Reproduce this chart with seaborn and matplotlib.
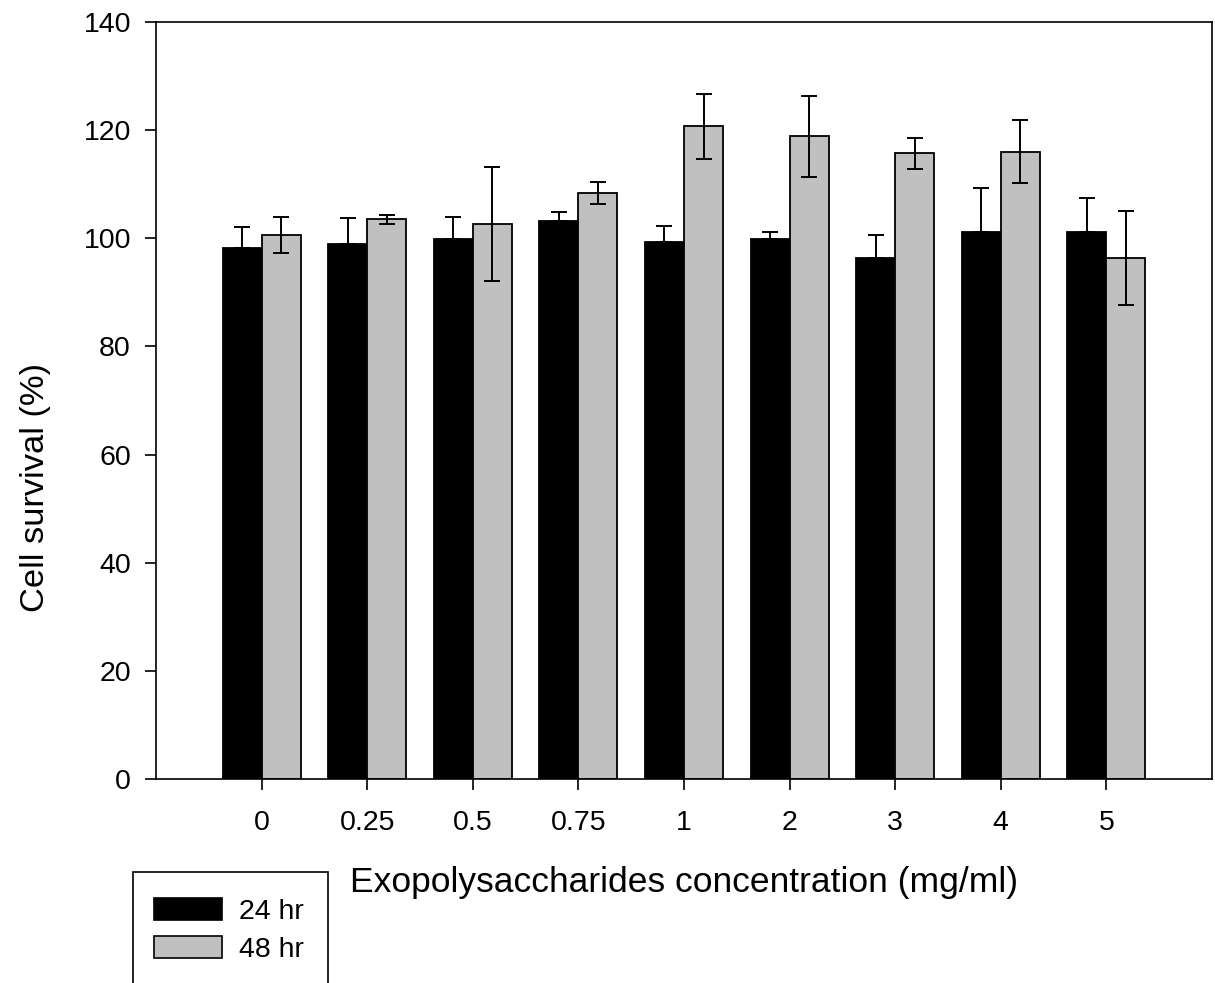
import matplotlib
matplotlib.use("Agg")
import matplotlib.pyplot as plt
from matplotlib.patches import Patch, Rectangle
import seaborn as sns
import pandas as pd
import numpy as np

# EPS concentrations (mg/ml) and cell survival (%) after 24 h and 48 h
concentrations = ["0", "0.25", "0.5", "0.75", "1", "2", "3", "4", "5"]
survival_24 = [98.2, 98.9, 99.9, 103.2, 99.2, 99.9, 96.3, 101.1, 101.1]
err_24 = [3.9, 4.9, 4.0, 1.7, 3.0, 1.3, 4.2, 8.1, 6.3]
survival_48 = [100.6, 103.5, 102.6, 108.3, 120.7, 118.8, 115.7, 116.0, 96.3]
err_48 = [3.3, 0.8, 10.5, 2.0, 6.0, 7.5, 2.9, 5.8, 8.7]
times = ["24 hr", "48 hr"]
colors = ["#000000", "#c0c0c0"]

sns.set_style("white")
plt.rcParams["font.family"] = ["Liberation Sans", "DejaVu Sans"]
plt.rcParams.update({"text.color": "black", "axes.labelcolor": "black",
                     "xtick.color": "black", "ytick.color": "black"})

df = pd.DataFrame({
    "conc": concentrations * 2,
    "survival": survival_24 + survival_48,
    "time": [times[0]] * len(concentrations) + [times[1]] * len(concentrations),
})

W, H = 1215, 983
fig = plt.figure(figsize=(W / 100, H / 100), dpi=100)
ax = fig.add_axes([156 / W, 1 - 779.3 / H, (1212 - 156) / W, (779.3 - 21.7) / H])

sns.barplot(data=df, x="conc", y="survival", hue="time", order=concentrations,
            hue_order=times, palette=colors, width=0.74, errorbar=None,
            edgecolor="black", linewidth=1.3, saturation=1, ax=ax, legend=False)

# error bars: 24 h upward only, 48 h both directions
for cont, vals, errs, sym in zip(ax.containers, [survival_24, survival_48],
                                 [err_24, err_48], [False, True]):
    xs = [p.get_x() + p.get_width() / 2 for p in cont.patches]
    errs = np.asarray(errs)
    yerr = errs if sym else np.vstack([np.zeros_like(errs), errs])
    ax.errorbar(xs, vals, yerr=yerr, fmt="none", ecolor="black",
                elinewidth=1.4, capsize=6, capthick=1.4, zorder=5)

ax.set_xlim(-1, 9)
ax.set_ylim(0, 140)
ax.set_yticks(range(0, 141, 20))
for s in ax.spines.values():
    s.set_visible(True)
    s.set_color("black")
    s.set_linewidth(1.2)
ax.tick_params(axis="both", direction="out", length=8, width=1.2, labelsize=20.5,
               colors="black", left=True, bottom=True, right=False, top=False)
ax.tick_params(axis="x", pad=14)
ax.tick_params(axis="y", pad=10)

ax.set_xlabel("Exopolysaccharides concentration (mg/ml)", fontsize=25.5)
ax.set_ylabel("Cell survival (%)", fontsize=24.8)
ax.xaxis.set_label_coords(0.5, -0.1144)
ax.yaxis.set_label_coords(-0.099, 0.385)

# legend with its frame running off the bottom edge
fig.add_artist(Rectangle((133 / W, -0.05), 195 / W, 0.05 + (1 - 872 / H),
                         transform=fig.transFigure, facecolor="white",
                         edgecolor="black", linewidth=1.2))
handles = [Patch(facecolor=c, edgecolor="black", linewidth=1.2) for c in colors]
fs_px = 20.5 * 100 / 72
fig.legend(handles, times, loc="upper left", bbox_to_anchor=(154 / W, 1 - 898 / H),
           frameon=False, fontsize=20.5, borderpad=0, borderaxespad=0,
           handlelength=68 / fs_px, handleheight=23 / fs_px,
           handletextpad=17 / fs_px, labelspacing=0.4)

fig.savefig("out.png", dpi=100)
